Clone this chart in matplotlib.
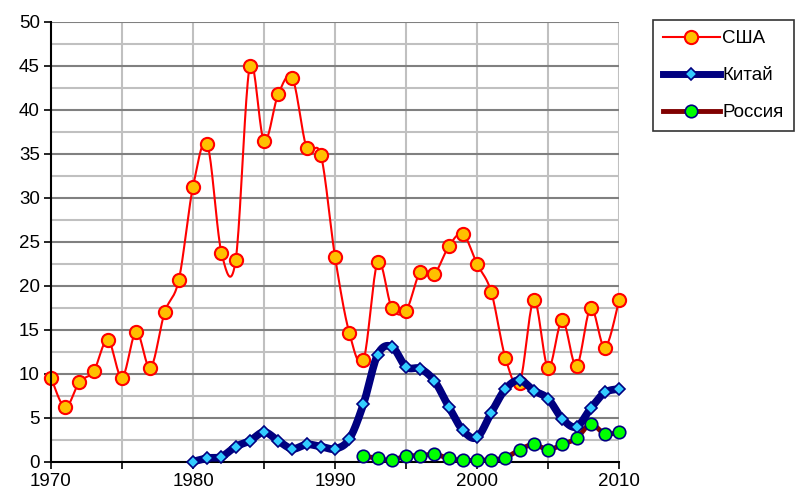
import numpy as np
import matplotlib
matplotlib.use("Agg")
import matplotlib.pyplot as plt
from matplotlib.lines import Line2D
from matplotlib.ticker import MultipleLocator

plt.rcParams['font.family'] = ['Liberation Sans', 'DejaVu Sans']

usa_years = list(range(1970, 2011))
usa_values = [9.6, 6.2, 9.1, 10.3, 13.9, 9.6, 14.8, 10.7, 17.0, 20.7,
              31.3, 36.1, 23.8, 22.9, 45.0, 36.5, 41.8, 43.6, 35.7, 34.9,
              23.3, 14.7, 11.6, 22.7, 17.5, 17.2, 21.6, 21.4, 24.5, 25.9,
              22.5, 19.3, 11.8, 9.0, 18.4, 10.7, 16.1, 10.9, 17.5, 13.0, 18.4]

china_years = list(range(1980, 2011))
china_values = [0.05, 0.45, 0.6, 1.75, 2.4, 3.4, 2.4, 1.5, 2.0, 1.75,
                1.5, 2.6, 6.6, 12.2, 13.1, 10.8, 10.6, 9.2, 6.3, 3.6,
                2.8, 5.6, 8.3, 9.3, 8.1, 7.2, 4.9, 4.0, 6.1, 7.9, 8.3]

russia_years = list(range(1992, 2011))
russia_values = [0.7, 0.4, 0.2, 0.7, 0.7, 0.9, 0.4, 0.2, 0.2, 0.25,
                 0.5, 1.4, 2.0, 1.4, 2.0, 2.7, 4.3, 3.2, 3.4]

labels = ['США', 'Китай', 'Россия']


def smooth(x, y, n=20):
    x = np.asarray(x, float)
    y = np.asarray(y, float)
    P = np.column_stack([x, y])
    out = []
    for i in range(len(P) - 1):
        p0 = P[i - 1] if i > 0 else P[i]
        p1 = P[i]
        p2 = P[i + 1]
        p3 = P[i + 2] if i + 2 < len(P) else P[i + 1]
        c1 = p1 + (p2 - p0) / 6.0
        c2 = p2 - (p3 - p1) / 6.0
        t = np.linspace(0, 1, n, endpoint=(i == len(P) - 2))[:, None]
        pts = ((1 - t) ** 3) * p1 + 3 * ((1 - t) ** 2) * t * c1 + 3 * (1 - t) * t ** 2 * c2 + t ** 3 * p2
        out.append(pts)
    out = np.vstack(out)
    return out[:, 0], out[:, 1]


fig = plt.figure(figsize=(8.03, 5.0), dpi=100)
ax = fig.add_axes([0.0635, 0.076, 0.7075, 0.88])

ax.set_xlim(1970, 2010)
ax.set_ylim(0, 50)

# grid
for v in np.arange(2.5, 50.1, 5):
    ax.axhline(v, color='#C0C0C0', lw=1.5, zorder=0)
for v in np.arange(5, 50.1, 5):
    ax.axhline(v, color='#808080', lw=1.5, zorder=0.5)
for v in range(1975, 2011, 5):
    ax.axvline(v, color='#C0C0C0', lw=1.5, zorder=0)

# series
sx, sy = smooth(usa_years, usa_values)
ax.plot(sx, sy, color='#FF0000', lw=1.5, zorder=3, clip_on=False)
ax.plot(usa_years, usa_values, ls='none', marker='o', ms=9.5,
        mfc='#FFC000', mec='#FF0000', mew=1.5, zorder=4, clip_on=False)

sx, sy = smooth(china_years, china_values)
ax.plot(sx, sy, color='#000080', lw=5.5, zorder=5, clip_on=False, solid_capstyle='round')
ax.plot(china_years, china_values, ls='none', marker='D', ms=6.5,
        mfc='#33CCFF', mec='#000080', mew=1.2, zorder=6, clip_on=False)

sx, sy = smooth(russia_years, russia_values)
ax.plot(sx, sy, color='#800000', lw=3.5, zorder=5, clip_on=False)
ax.plot(russia_years, russia_values, ls='none', marker='o', ms=9,
        mfc='#00FF00', mec='#000080', mew=1.2, zorder=6, clip_on=False)

# axes styling
for s in ['top', 'right']:
    ax.spines[s].set_visible(False)
ax.spines['left'].set_color('black')
ax.spines['left'].set_linewidth(1.5)
ax.spines['bottom'].set_color('black')
ax.spines['bottom'].set_linewidth(1.5)
ax.spines['left'].set_zorder(7)
ax.spines['bottom'].set_zorder(2)

ax.xaxis.set_major_locator(MultipleLocator(10))
ax.xaxis.set_minor_locator(MultipleLocator(5))
ax.yaxis.set_major_locator(MultipleLocator(5))
ax.tick_params(axis='both', which='both', direction='out', length=5, width=1.2,
               labelsize=13.5, colors='black', pad=3)
ax.tick_params(axis='x', which='minor', length=5)

handles = [
    Line2D([], [], color='#FF0000', lw=1.5, marker='o', ms=9.5, mfc='#FFC000', mec='#FF0000', mew=1.5),
    Line2D([], [], color='#000080', lw=5, marker='D', ms=6.5, mfc='#33CCFF', mec='#000080', mew=1.2),
    Line2D([], [], color='#800000', lw=3.5, marker='o', ms=9, mfc='#00FF00', mec='#000080', mew=1.2),
]
leg = fig.legend(handles, labels, loc='upper left', bbox_to_anchor=(653 / 803, 1 - 20 / 500),
                 frameon=True, fancybox=False, edgecolor='black', fontsize=13.5,
                 handlelength=3.0, handletextpad=0.15, borderpad=0.55, labelspacing=1.05,
                 borderaxespad=0)
leg.get_frame().set_linewidth(1.2)

fig.savefig('out.png', dpi=100)
